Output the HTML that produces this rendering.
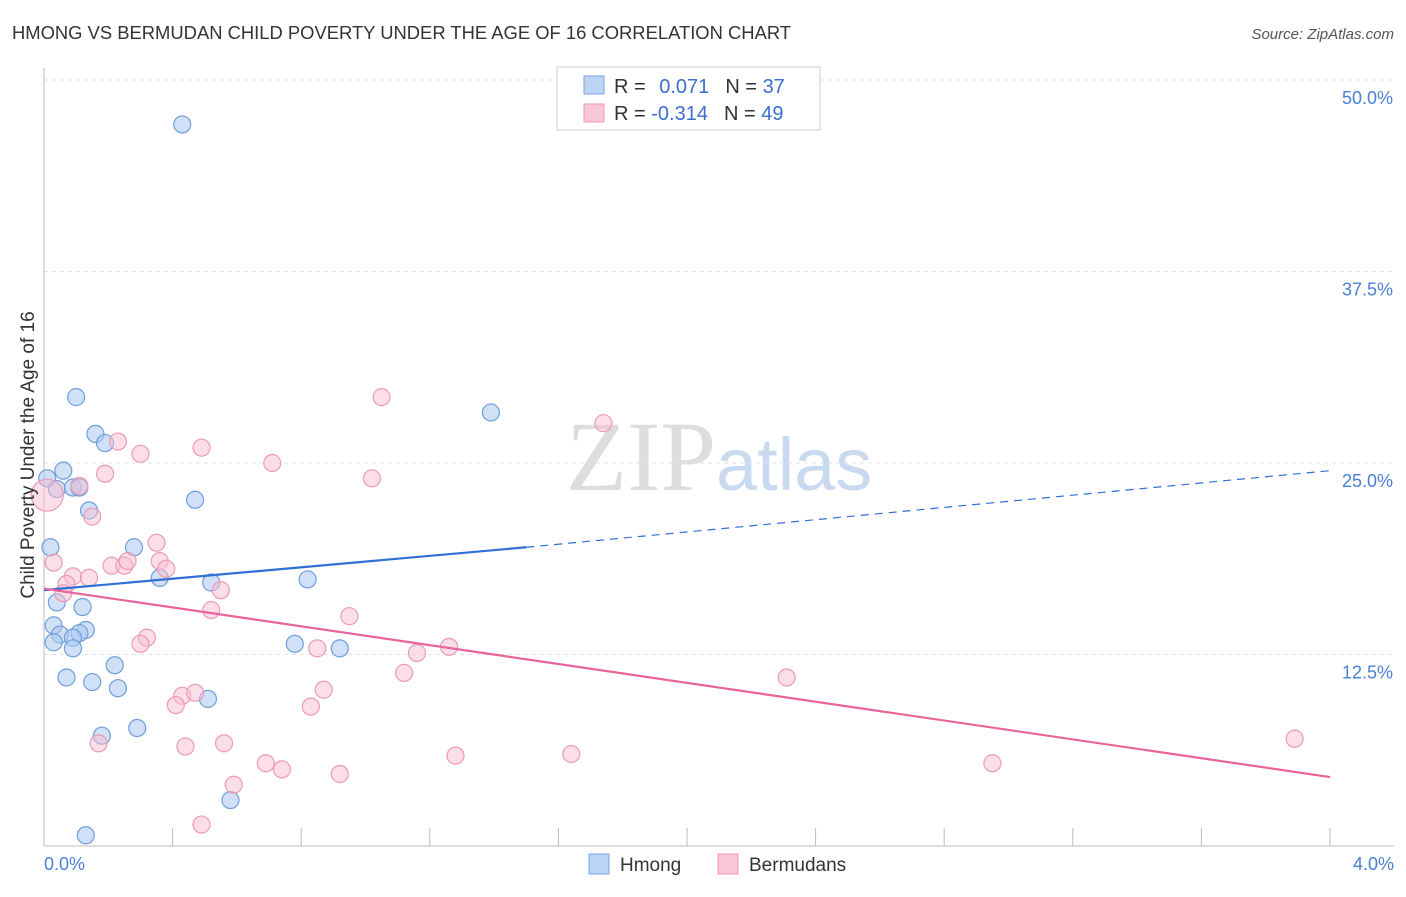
<!DOCTYPE html>
<html><head><meta charset="utf-8"><style>
body{margin:0;background:#fff;font-family:"Liberation Sans",sans-serif;}
</style></head><body>
<svg width="1406" height="892" xmlns="http://www.w3.org/2000/svg" font-family="Liberation Sans, sans-serif">
<text x="12" y="39" font-size="18.4" fill="#333">HMONG VS BERMUDAN CHILD POVERTY UNDER THE AGE OF 16 CORRELATION CHART</text>
<text x="1394" y="39" font-size="15" fill="#555" font-style="italic" text-anchor="end">Source: ZipAtlas.com</text>
<text x="716" y="490" font-size="100" fill="#ddd" text-anchor="end" font-family="Liberation Serif, serif">ZIP</text>
<text x="716" y="490" font-size="74" fill="#c9d9ef">atlas</text>
<g id="grid"></g>
<g id="axes"></g>
<g id="pts"></g>
<g id="trend"></g>
<text x="34" y="455" font-size="19" fill="#333" text-anchor="middle" transform="rotate(-90 34 455)">Child Poverty Under the Age of 16</text>
<text x="44" y="870" font-size="18" fill="#4a7fd4">0.0%</text>
<text x="1394" y="870" font-size="18" fill="#4a7fd4" text-anchor="end">4.0%</text>
<g>
<rect x="557" y="67" width="263" height="63" fill="#fff" stroke="#ccc"/>
<rect x="584" y="76" width="20" height="18" fill="#bcd4f4" stroke="#7aa5e0"/>
<rect x="584" y="104" width="20" height="18" fill="#f9c8d8" stroke="#ee99b5"/>
<text x="614" y="93" font-size="20" fill="#333">R = <tspan fill="#3a6fd0" dx="8">0.071</tspan><tspan dx="16">N = </tspan><tspan fill="#3a6fd0">37</tspan></text>
<text x="614" y="120" font-size="20" fill="#333">R = <tspan fill="#3a6fd0">-0.314</tspan><tspan dx="16">N = </tspan><tspan fill="#3a6fd0">49</tspan></text>
</g>
<g>
<rect x="589" y="854" width="20" height="20" fill="#bcd4f4" stroke="#7aa5e0"/>
<text x="620" y="871" font-size="19" fill="#333">Hmong</text>
<rect x="718" y="854" width="20" height="20" fill="#f9c8d8" stroke="#ee99b5"/>
<text x="749" y="871" font-size="19" fill="#333">Bermudans</text>
</g>
</svg>
<script>
const yTicks=[12.5,25,37.5,50];
const yTickLabels=["12.5%","25.0%","37.5%","50.0%"];
const hmongX=[0.43,0.10,0.16,0.19,1.39,0.06,0.01,0.04,0.09,0.11,0.47,0.14,0.02,0.28,0.36,0.52,0.82,0.04,0.12,0.03,0.13,0.11,0.05,0.09,0.03,0.09,0.78,0.92,0.22,0.07,0.15,0.23,0.51,0.18,0.29,0.58,0.13];
const hmongY=[47.1,29.3,26.9,26.3,28.3,24.5,24.0,23.3,23.4,23.4,22.6,21.9,19.5,19.5,17.5,17.2,17.4,15.9,15.6,14.4,14.1,13.9,13.8,13.6,13.3,12.9,13.2,12.9,11.8,11.0,10.7,10.3,9.6,7.2,7.7,3.0,0.7];
const bermX=[0.01,1.05,1.74,0.23,0.49,0.30,0.71,0.19,1.02,0.11,0.15,0.35,0.03,0.21,0.25,0.26,0.36,0.38,0.09,0.14,0.07,0.06,0.55,0.52,0.95,0.32,0.30,0.85,1.26,1.16,1.12,2.31,0.87,0.43,0.47,0.41,0.83,0.17,0.44,0.56,1.28,1.64,3.89,0.69,0.74,2.95,0.92,0.59,0.49];
const bermY=[22.9,29.3,27.6,26.4,26.0,25.6,25.0,24.3,24.0,23.5,21.5,19.8,18.5,18.3,18.3,18.6,18.6,18.1,17.6,17.5,17.1,16.5,16.7,15.4,15.0,13.6,13.2,12.9,13.0,12.6,11.3,11.0,10.2,9.8,10.0,9.2,9.1,6.7,6.5,6.7,5.9,6.0,7.0,5.4,5.0,5.4,4.7,4.0,1.4];
const hmongLine=[[0,16.7],[1.5,19.5]], hmongDash=[[1.5,19.5],[4,24.5]];
const bermLine=[[0,16.8],[4,4.5]];
const ns="http://www.w3.org/2000/svg";
const X=v=>44+v/4*1286, Y=v=>846-v*15.32;
function mk(t,a,p){const e=document.createElementNS(ns,t);for(const k in a)e.setAttribute(k,a[k]);document.getElementById(p).appendChild(e);return e;}
yTicks.forEach((t,i)=>{
 const l=mk('line',{x1:44,x2:1394,y1:Y(t),y2:Y(t),stroke:'#e2e2e2','stroke-dasharray':'4,4'},'grid');
 
 
 const tx=mk('text',{x:1393,y:Y(t)+24,'font-size':18,fill:'#4a7fd4','text-anchor':'end'},'grid');
 tx.textContent=yTickLabels[i];
 
 
});
let ax=mk('line',{x1:44,x2:44,y1:68,y2:846,stroke:'#bbb'},'axes');


ax=mk('line',{x1:44,x2:1394,y1:846,y2:846,stroke:'#bbb'},'axes');


for(let i=0;i<=10;i++){const t=mk('line',{x1:X(i*0.4),x2:X(i*0.4),y1:828,y2:846,stroke:'#bbb'},'axes');
 
 }
hmongX.forEach((v,i)=>{const c=mk('circle',{cx:X(v),cy:Y(hmongY[i]),r:8.5,fill:'rgba(170,200,240,0.55)',stroke:'#6f9edc','stroke-width':1.2},'pts');
 
 });
bermX.forEach((v,i)=>{const c=mk('circle',{cx:X(v),cy:Y(bermY[i]),r:i==0?16:8.5,fill:'rgba(248,190,210,0.5)',stroke:'#ec9ab6','stroke-width':1.2},'pts');
 
 });
function ln(p,s,w,d,n){const l=mk('line',{x1:X(p[0][0]),y1:Y(p[0][1]),x2:X(p[1][0]),y2:Y(p[1][1]),stroke:s,'stroke-width':w},'trend');if(d)l.setAttribute('stroke-dasharray',d);
 
 }
ln(hmongLine,'#2f6fd6',2.2,null,'hmong-trend-line');
ln(hmongDash,'#2f6fd6',1.2,'8,6','hmong-trend-extension');
ln(bermLine,'#e8649a',2.2,null,'bermudan-trend-line');
</script>
</body></html>
